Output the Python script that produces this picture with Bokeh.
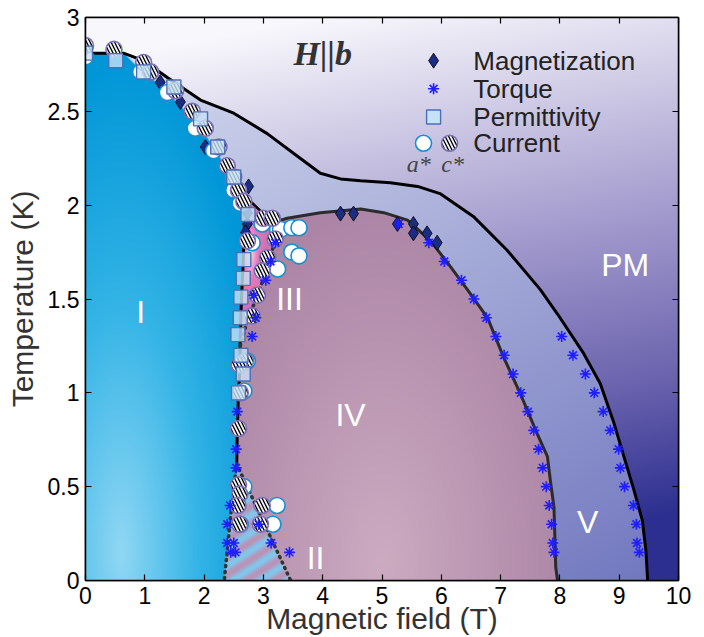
import numpy as np
from bokeh.plotting import figure
from bokeh.models import Range1d, FixedTicker, LinearAxis, NumeralTickFormatter, CustomJSTickFormatter
from bokeh.core.properties import value
from bokeh.embed import file_html
from bokeh.resources import INLINE

# ---------------- phase boundaries (field in T, temperature in K) ----------------
# upper boundary to the paramagnetic phase
pm_B = [0.00, 0.64, 0.98, 1.38, 1.94, 2.50, 3.07, 3.62, 3.96, 4.30, 4.64, 5.14, 5.60, 5.99,
        6.54, 7.11, 7.67, 7.96, 8.40, 8.68, 8.91, 9.08, 9.25, 9.39, 9.45, 9.48]
pm_T = [2.81, 2.81, 2.77, 2.68, 2.56, 2.49, 2.38, 2.25, 2.17, 2.14, 2.13, 2.12, 2.10, 2.06,
        1.94, 1.76, 1.55, 1.42, 1.21, 1.05, 0.84, 0.66, 0.48, 0.32, 0.16, 0.00]
# dome of phase IV (and IV / V border)
iv_B = [3.30, 3.40, 3.96, 4.64, 5.03, 5.43, 5.82, 6.16, 6.44, 6.78, 7.05, 7.34, 7.62, 7.79,
        7.84, 7.90, 7.93, 7.96]
iv_T = [1.92, 1.93, 1.96, 1.98, 1.96, 1.92, 1.81, 1.67, 1.55, 1.40, 1.19, 0.99, 0.78, 0.66,
        0.53, 0.39, 0.07, 0.00]
# upper edge of phase I
i_top_B = [0.00, 0.64, 0.93, 1.30, 1.60, 1.95, 2.16, 2.35, 2.50, 2.62, 2.70]
i_top_T = [2.81, 2.81, 2.72, 2.63, 2.53, 2.41, 2.31, 2.21, 2.13, 2.04, 1.98]
# upper edge of phase III
iii_top_B = [2.50, 2.75, 3.00, 3.30]
iii_top_T = [2.16, 2.03, 1.955, 1.92]
# I / IV border (solid)
i_iv_B = [2.68, 2.66, 2.63, 2.61, 2.60, 2.58, 2.56, 2.55]
i_iv_T = [1.90, 1.70, 1.50, 1.30, 1.10, 1.00, 0.80, 0.62]
# III / IV border (dotted)
iii_iv_B = [2.61, 2.73, 2.95, 3.17, 3.30]
iii_iv_T = [1.25, 1.385, 1.56, 1.78, 1.92]
# borders of phase II (dotted)
ii_left_B = [2.55, 2.45, 2.34]
ii_left_T = [0.62, 0.35, 0.00]
ii_right_B = [2.55, 3.46]
ii_right_T = [0.62, 0.00]

# ---------------- measured transition points ----------------
mag_B = [1.26, 1.60, 2.02, 2.50, 2.75, 2.73, 2.70, 2.73, 4.30, 4.52, 5.26, 5.53, 5.53, 5.76, 5.93]
mag_T = [2.655, 2.55, 2.31, 2.15, 2.10, 1.90, 1.855, 1.96, 1.955, 1.955, 1.90, 1.90, 1.85, 1.85, 1.80]

torq_B = [5.28, 5.79, 6.05, 6.34, 6.55, 6.76, 6.92, 7.06, 7.21, 7.34, 7.46, 7.56, 7.64, 7.71,
          7.77, 7.82, 7.86, 7.88, 7.90,
          8.03, 8.22, 8.43, 8.58, 8.73, 8.85, 8.99, 9.02, 9.09, 9.24, 9.29, 9.30, 9.34,
          2.56, 2.54, 2.54, 2.39, 2.44, 2.39, 2.50, 2.45, 2.53, 2.92, 3.13, 3.44,
          2.81, 2.87, 3.04, 2.84, 3.12, 3.20]
torq_T = [1.90, 1.80, 1.70, 1.60, 1.50, 1.40, 1.30, 1.20, 1.10, 1.00, 0.90, 0.80, 0.70, 0.60,
          0.50, 0.40, 0.30, 0.20, 0.15,
          1.30, 1.20, 1.10, 1.00, 0.90, 0.80, 0.70, 0.60, 0.50, 0.40, 0.30, 0.20, 0.15,
          0.90, 0.70, 0.60, 0.30, 0.40, 0.20, 0.20, 0.15, 0.15, 0.30, 0.20, 0.15,
          1.30, 1.40, 1.60, 1.52, 1.70, 1.80]

perm_B = [0.00, 0.51, 0.98, 1.49, 1.94, 2.23, 2.50, 2.74, 2.67, 2.66, 2.62, 2.61, 2.57, 2.62, 2.66, 2.58]
perm_T = [2.81, 2.77, 2.71, 2.63, 2.46, 2.31, 2.15, 1.95, 1.71, 1.61, 1.51, 1.40, 1.31, 1.20, 1.10, 1.00]

cur_a_B = [0.00, 0.93, 1.38, 1.85, 2.16, 2.50, 2.61, 2.98, 3.24, 3.29, 3.48, 3.60, 3.48, 3.60,
           3.24, 2.81, 2.67, 2.73, 2.67, 3.23, 3.16, 2.61]
cur_a_T = [2.79, 2.71, 2.60, 2.41, 2.29, 2.08, 2.01, 1.90, 1.87, 1.87, 1.88, 1.88, 1.75, 1.73,
           1.66, 1.80, 1.01, 1.17, 0.50, 0.40, 0.30, 0.30]

cur_c_B = [0.00, 0.48, 0.98, 1.10, 1.52, 1.80, 2.02, 2.25, 2.39, 2.50, 2.58, 2.67, 2.73, 3.00,
           3.15, 3.20, 3.07, 2.98, 2.90, 2.81, 2.70, 2.59, 2.61, 2.58, 2.58, 2.60, 2.57, 2.60,
           2.98, 2.95]
cur_c_T = [2.85, 2.83, 2.76, 2.71, 2.61, 2.50, 2.41, 2.31, 2.21, 2.15, 2.08, 2.02, 1.81, 1.93,
           1.93, 1.82, 1.72, 1.65, 1.52, 1.41, 1.17, 1.15, 1.00, 0.81, 0.51, 0.46, 0.40, 0.30,
           0.40, 0.30]

# ---------------- texts ----------------
x_ticks = [0, 1, 2, 3, 4, 5, 6, 7, 8, 9, 10]
y_ticks = [0, 0.5, 1, 1.5, 2, 2.5, 3]
phase_names = ["I", "II", "III", "IV", "V", "PM"]
phase_name_B = [0.93, 3.88, 3.44, 4.47, 8.47, 9.10]
phase_name_T = [1.43, 0.12, 1.50, 0.88, 0.31, 1.68]
legend_labels = ["Magnetization", "Torque", "Permittivity", "Current"]

SANS = "Liberation Sans"
SERIF = "Liberation Serif"

# ---------------- shaded phase regions as an RGBA raster ----------------
NX, NY = 593, 563
gB = (np.arange(NX) + 0.5) / NX * 10.0
gT = (np.arange(NY) + 0.5) / NY * 3.0
BB, TT = np.meshgrid(gB, gT)


def inside(xs, ys, X, Y):
    xs = np.asarray(xs, float)
    ys = np.asarray(ys, float)
    res = np.zeros(X.shape, bool)
    j = len(xs) - 1
    for i in range(len(xs)):
        xi, yi, xj, yj = xs[i], ys[i], xs[j], ys[j]
        if yi != yj:
            cross = ((yi > Y) != (yj > Y)) & (X < (xj - xi) * (Y - yi) / (yj - yi) + xi)
            res ^= cross
        j = i
    return res


def ramp(t, stops):
    t = np.clip(t, 0, 1)
    pos = [s[0] for s in stops]
    return np.stack([np.interp(t, pos, [s[1][k] for s in stops]) for k in range(3)], axis=-1)


m_pm = inside(pm_B + [10, 10, 0], pm_T + [0, 3, 3], BB, TT)
m_i = inside([0] + i_top_B + i_iv_B + ii_left_B[1:],
             [0] + i_top_T + i_iv_T + ii_left_T[1:], BB, TT)
m_ii = inside(ii_left_B + ii_right_B[::-1][:-1], ii_left_T + ii_right_T[::-1][:-1], BB, TT)
m_iii = inside([2.61, 2.63, 2.66, 2.68, 2.70] + iii_top_B[1:] + iii_iv_B[::-1][1:-1],
               [1.25, 1.50, 1.70, 1.90, 1.98] + iii_top_T[1:] + iii_iv_T[::-1][1:-1], BB, TT)
m_iv = inside(iv_B + [2.0, 2.0], iv_T + [0.0, 1.92], BB, TT)

# base: intermediate band (contains phase V)
t_band = (2.8 - TT) / 2.8 * 0.6 + BB / 10.0 * 0.4
rgb = ramp(t_band, [(0.0, (214, 220, 239)), (1.0, (112, 118, 190))])

t_pm = (3.0 - TT) / 3.0 + BB / 10.0 * 0.2 - 0.08
c_pm = ramp(t_pm, [(0.0, (248, 247, 252)), (0.42, (170, 162, 209)),
                   (0.75, (108, 100, 174)), (1.0, (44, 47, 144))])
rgb[m_pm] = c_pm[m_pm]

r_iv = np.sqrt(((BB - 5.0) / 3.2) ** 2 + ((TT - 0.1) / 1.9) ** 2)
c_iv = ramp(r_iv, [(0.0, (204, 171, 193)), (1.0, (172, 133, 166))])
m = m_iv & ~m_pm
rgb[m] = c_iv[m]

r_iii = np.sqrt(((BB - 2.78) / 0.35) ** 2 + ((TT - 1.75) / 0.40) ** 2)
c_iii = ramp(r_iii, [(0.0, (246, 226, 230)), (0.35, (228, 120, 190)),
                     (0.8, (205, 115, 178)), (1.4, (180, 135, 172))])
rgb[m_iii] = c_iii[m_iii]

px = BB * 59.3
py = TT * 187.7
s_ii = 0.5 + 0.5 * np.sin((-0.537 * px + 0.844 * py) / 15.0 * 2 * np.pi)
c_ii = ramp(s_ii, [(0.0, (128, 200, 236)), (1.0, (188, 145, 182))])
rgb[m_ii] = c_ii[m_ii]

r_i = np.sqrt(((BB - 0.6) / 2.6) ** 2 + ((TT - 0.15) / 2.6) ** 2)
c_i = ramp(r_i, [(0.0, (145, 215, 244)), (0.5, (52, 180, 230)), (1.0, (0, 150, 215))])
rgb[m_i] = c_i[m_i]

img = np.empty((NY, NX), dtype=np.uint32)
view = img.view(dtype=np.uint8).reshape((NY, NX, 4))
view[..., :3] = np.round(rgb).astype(np.uint8)
view[..., 3] = 255

# ---------------- figure ----------------
p = figure(width=704, height=637, x_range=Range1d(0, 10), y_range=Range1d(0, 3),
           output_backend="svg", toolbar_location=None,
           min_border_left=85, min_border_right=26, min_border_top=17, min_border_bottom=57)
p.background_fill_color = "white"
p.border_fill_color = "white"
p.grid.visible = False
p.outline_line_color = "black"
p.outline_line_width = 1.5

p.image_rgba(image=[img], x=0, y=0, dw=10, dh=3)

# boundaries
p.line(pm_B, pm_T, line_color="black", line_width=3)
p.line(iv_B, iv_T, line_color="#2b2b2b", line_width=3)
p.line(iii_top_B, iii_top_T, line_color="black", line_width=2.5)
p.line(i_iv_B, i_iv_T, line_color="black", line_width=3)
for xs, ys in [(iii_iv_B, iii_iv_T), (ii_left_B, ii_left_T), (ii_right_B, ii_right_T)]:
    p.line(xs, ys, line_color="#333333", line_width=3.5, line_dash="1 5", line_cap="round")

# data points
HATCH = dict(hatch_pattern="\\", hatch_color="black", hatch_weight=1.3, hatch_scale=7)
p.scatter(mag_B, mag_T, marker="diamond", size=15, fill_color="#1b2c84",
          line_color="black", line_width=0.8)
p.scatter(cur_a_B, cur_a_T, marker="circle", size=16, fill_color="white",
          line_color="#1590d2", line_width=1.6)
p.scatter(cur_c_B, cur_c_T, marker="circle", size=16, fill_color="#f2f1f7",
          line_color="#7d6fb8", line_width=1.6, **HATCH)
p.scatter(perm_B, perm_T, marker="square", size=14, fill_color="#c6e2f6", fill_alpha=0.8,
          line_color="#4d6fb4", line_width=1.4)
p.scatter(torq_B, torq_T, marker="asterisk", size=11, line_color="#1e1eff", line_width=1.6)

# phase names
p.text(phase_name_B, phase_name_T, text=phase_names, text_color="white",
       text_font=value(SANS), text_font_size="32px", text_align="center",
       text_baseline="middle")

# field direction
p.text([4.0], [2.81], text=["H||b"], text_color="#333333", text_font=value(SERIF),
       text_font_style="bold italic", text_font_size="34px", text_align="center",
       text_baseline="middle")

# legend
leg_T = [2.77, 2.62, 2.47, 2.33]
p.scatter([5.87], [leg_T[0]], marker="diamond", size=15, fill_color="#1b2c84",
          line_color="black", line_width=0.8)
p.scatter([5.87], [leg_T[1]], marker="asterisk", size=11, line_color="#1e1eff", line_width=1.6)
p.scatter([5.87], [leg_T[2]], marker="square", size=14, fill_color="#c6e2f6",
          line_color="#4d6fb4", line_width=1.4)
p.scatter([5.70], [leg_T[3]], marker="circle", size=16, fill_color="white",
          line_color="#1590d2", line_width=1.6)
p.scatter([6.14], [leg_T[3]], marker="circle", size=16, fill_color="#f2f1f7",
          line_color="#7d6fb8", line_width=1.6, **HATCH)
p.text([6.54] * 4, leg_T, text=legend_labels, text_color="#222222", text_font=value(SANS),
       text_font_size="26px", text_align="left", text_baseline="middle")
p.text([5.62, 6.19], [2.22, 2.22], text=["a*", "c*"], text_color="#444444",
       text_font=value(SERIF), text_font_style="italic", text_font_size="24px",
       text_align="center", text_baseline="middle")

# axes
xa = p.below[0]
ya = p.left[0]
xa.ticker = FixedTicker(ticks=x_ticks)
ya.ticker = FixedTicker(ticks=y_ticks)
ya.formatter = NumeralTickFormatter(format="0.[0]")
xa.axis_label = "Magnetic field (T)"
ya.axis_label = "Temperature (K)"
for ax in (xa, ya):
    ax.major_tick_in = 6
    ax.major_tick_out = 0
    ax.minor_tick_line_color = None
    ax.axis_line_width = 1.5
    ax.major_tick_line_width = 1.2
    ax.major_label_text_font = SANS
    ax.major_label_text_font_size = "23px"
    ax.major_label_text_color = "black"
    ax.axis_label_text_font = SANS
    ax.axis_label_text_font_size = "30px"
    ax.axis_label_text_font_style = "normal"
    ax.axis_label_text_color = "#333333"
xa.major_label_standoff = 6
xa.axis_label_standoff = -5
ya.major_label_standoff = 6
ya.axis_label_standoff = 6

# tick marks on the opposite sides, no labels there
for side, ticks in (("above", x_ticks), ("right", y_ticks)):
    ax = LinearAxis(ticker=FixedTicker(ticks=ticks), formatter=CustomJSTickFormatter(code="return ''"),
                    major_label_standoff=0, major_tick_in=6, major_tick_out=0,
                    minor_tick_line_color=None, axis_line_width=1.5, major_tick_line_width=1.2)
    p.add_layout(ax, side)

open("out.html", "w").write(file_html(p, INLINE))
